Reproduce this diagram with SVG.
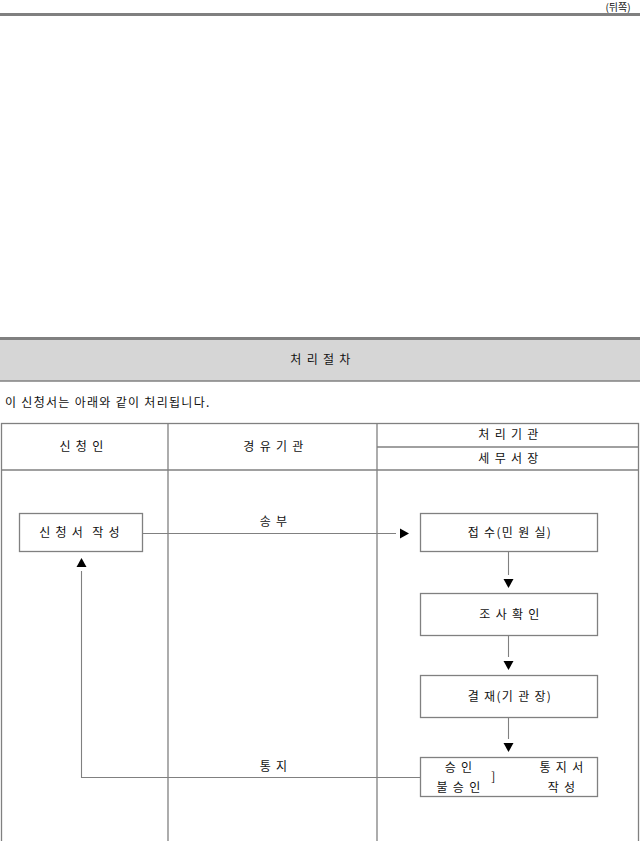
<svg xmlns="http://www.w3.org/2000/svg" width="640" height="841" viewBox="0 0 640 841">
<style>
text{font-family:"Noto Sans CJK KR","Noto Sans",sans-serif;font-size:12px;fill:#111;text-anchor:middle;letter-spacing:1.3px}
.ln{stroke:#808080;stroke-width:1.3;fill:none}
.box{fill:#fff;stroke:#808080;stroke-width:1.3}
.con{stroke:#808080;stroke-width:1.1;fill:none;marker-end:url(#arr)}
</style>
<defs>
<marker id="arr" markerUnits="userSpaceOnUse" markerWidth="9" markerHeight="10" viewBox="0 0 9 10" refX="-4" refY="5" orient="auto" overflow="visible">
<path d="M0,0 L9,5 L0,10 z" fill="#000"/>
</marker>
</defs>
<rect x="0" y="13" width="640" height="3" fill="#808080"/>
<text x="618" y="11" style="font-size:10px;letter-spacing:0">(뒤쪽)</text>
<g id="title">
<rect x="0" y="337" width="640" height="44" fill="#d6d6d6"/>
<rect x="0" y="337" width="640" height="3" fill="#808080"/>
<line x1="0" y1="381" x2="640" y2="381" stroke="#808080" stroke-width="1.5"/>
<text x="321" y="364">처 리 절 차</text>
</g>
<text x="5" y="407" style="text-anchor:start">이 신청서는 아래와 같이 처리됩니다.</text>
<g id="table">
<rect x="1.5" y="423.5" width="637" height="420" class="ln"/>
<line x1="168" y1="423" x2="168" y2="841" class="ln"/>
<line x1="377" y1="423" x2="377" y2="841" class="ln"/>
<line x1="1" y1="470" x2="639" y2="470" class="ln"/>
<line x1="377" y1="447" x2="639" y2="447" class="ln"/>
<text x="82" y="451">신 청 인</text>
<text x="274" y="451">경 유 기 관</text>
<text x="509" y="439">처 리 기 관</text>
<text x="509" y="463">세 무 서 장</text>
</g>
<g id="n1"><rect x="19.5" y="513.5" width="123" height="38" class="box"/><text x="80" y="537">신 청 서&#160; 작 성</text></g>
<g id="n2"><rect x="420.5" y="513.5" width="177" height="38" class="box"/><text x="510" y="537">접 수(민 원 실)</text></g>
<g id="n3"><rect x="420.5" y="593.5" width="177" height="42" class="box"/><text x="510" y="619">조 사 확 인</text></g>
<g id="n4"><rect x="420.5" y="675.5" width="177" height="42" class="box"/><text x="510" y="701">결 재(기 관 장)</text></g>
<g id="n5"><rect x="420.5" y="757.5" width="177" height="39" class="box"/>
<text x="459" y="772">승 인</text><text x="459" y="792">불 승 인</text>
<text x="494" y="781">]</text>
<text x="562" y="772">통 지 서</text><text x="562" y="792">작 성</text></g>
<g id="connectors">
<line x1="143" y1="533.5" x2="396" y2="533.5" class="con"/>
<line x1="508.5" y1="552" x2="508.5" y2="575" class="con"/>
<line x1="508.5" y1="636" x2="508.5" y2="657" class="con"/>
<line x1="508.5" y1="718" x2="508.5" y2="739" class="con"/>
<polyline points="420,777.5 81.5,777.5 81.5,571" class="con"/>
<text x="274" y="526">송 부</text>
<text x="274" y="771">통 지</text>
</g>
</svg>
